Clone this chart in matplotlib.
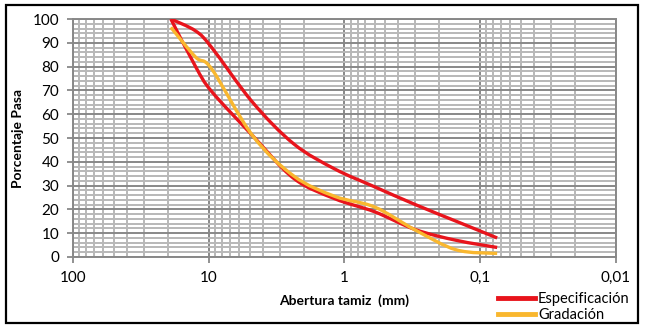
import matplotlib
matplotlib.use("Agg")
import matplotlib.pyplot as plt
import numpy as np
from matplotlib.path import Path
from matplotlib.patches import PathPatch, Rectangle
from matplotlib.lines import Line2D
from matplotlib.ticker import FixedLocator, MultipleLocator, NullFormatter

plt.rcParams["font.family"] = ["Lato", "DejaVu Sans"]

# sieve openings (mm) and percent passing
sieves = [19, 12.5, 9.5, 4.75, 2.36, 1.18, 0.6, 0.3, 0.15, 0.075]
spec_upper = [100, 95, 88, 65, 47.5, 37, 29.5, 22, 15, 8]
spec_lower = [100, 80, 69.5, 51, 33, 24.5, 19, 11.5, 7, 4]
gradation = [96.5, 84, 79, 51, 34, 25.5, 21, 11.3, 3, 1.5]

x_ticks = [100, 10, 1, 0.1, 0.01]
x_labels = ["100", "10", "1", "0,1", "0,01"]

RED = "#e8141c"
YELLOW = "#f9b72f"


def smooth_path(d, p):
    # Catmull-Rom style bezier through the points, built in log-x space
    pts = np.column_stack([np.log10(d), p]).astype(float)
    verts = [pts[0]]
    codes = [Path.MOVETO]
    n = len(pts)
    for i in range(n - 1):
        p0 = pts[i - 1] if i > 0 else pts[i]
        p1 = pts[i]
        p2 = pts[i + 1]
        p3 = pts[i + 2] if i + 2 < n else pts[i + 1]
        verts += [p1 + (p2 - p0) / 6, p2 - (p3 - p1) / 6, p2]
        codes += [Path.CURVE4] * 3
    verts = np.array(verts)
    verts[:, 0] = 10 ** verts[:, 0]
    return Path(verts, codes)


fig = plt.figure(figsize=(6.47, 3.28), dpi=100)
ax = fig.add_axes([0.1128, 0.2165, 0.8392, 0.7255])

ax.set_xscale("log")

for vals, col, z in [(spec_upper, RED, 3), (spec_lower, RED, 3), (gradation, YELLOW, 4)]:
    ax.add_patch(PathPatch(smooth_path(sieves, vals), fill=False, edgecolor=col,
                           lw=2.4, zorder=z, transform=ax.transData))

ax.set_xlim(100, 0.01)
ax.set_ylim(0, 100)

ax.xaxis.set_major_locator(FixedLocator(x_ticks))
ax.set_xticklabels(x_labels)
minor = [m * 10.0 ** e for e in range(-2, 2) for m in range(2, 10)]
ax.xaxis.set_minor_locator(FixedLocator(minor))
ax.xaxis.set_minor_formatter(NullFormatter())
ax.yaxis.set_major_locator(MultipleLocator(10))
ax.yaxis.set_minor_locator(MultipleLocator(2))

ax.grid(which="minor", color="#b8b8b8", lw=1.4, zorder=0)
ax.grid(which="major", color="#888888", lw=1.4, zorder=1)
ax.set_axisbelow(True)

for s in ax.spines.values():
    s.set_color("#888888")
    s.set_linewidth(1.4)

ax.tick_params(which="major", length=4, width=1.3, color="#888888",
               labelsize=11, pad=6)
ax.tick_params(which="minor", length=0)

ax.set_xlabel("Abertura tamiz  (mm)", fontsize=10, fontweight="bold", labelpad=7)
ax.set_ylabel("Porcentaje Pasa", fontsize=10, fontweight="bold", labelpad=6)

handles = [Line2D([], [], color=RED, lw=3.5), Line2D([], [], color=YELLOW, lw=3.5)]
fig.legend(handles, ["Especificación", "Gradación"], loc="lower right",
           bbox_to_anchor=(0.982, 0.0), frameon=False, fontsize=10.5,
           handlelength=2.55, handletextpad=0.2, labelspacing=0.12,
           borderaxespad=0)

fig.patches.append(Rectangle((0.0093, 0.015), 0.977, 0.97, transform=fig.transFigure,
                             fill=False, edgecolor="black", lw=1.6))

fig.savefig("out.png", dpi=100)
